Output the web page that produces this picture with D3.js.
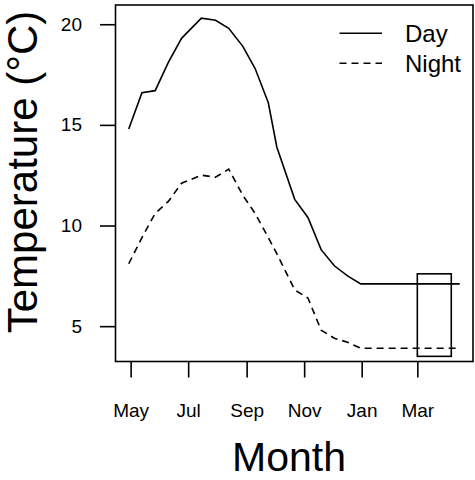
<!DOCTYPE html>
<html>
<head>
<meta charset="utf-8">
<script src="https://cdn.jsdelivr.net/npm/d3@7"></script>
<style>
html,body{margin:0;padding:0;background:#fff;}
svg{display:block;font-family:"Liberation Sans",Arial,Helvetica,sans-serif;}
</style>
</head>
<body>
<svg id="chart" width="475" height="480"></svg>
<script>
// Data (dates of observations, day and night temperatures in °C)
const dates = ["2013-04-29","2013-05-13","2013-05-27","2013-06-10","2013-06-24","2013-07-15","2013-07-30","2013-08-13","2013-08-28","2013-09-10","2013-09-24","2013-10-03","2013-10-22","2013-11-05","2013-11-19","2013-12-03","2013-12-17","2013-12-31","2014-04-15"];
const dayTemp   = [14.8,16.6,16.7,18.1,19.3,20.3,20.2,19.8,18.9,17.8,16.1,13.9,11.3,10.4,8.8,8.0,7.5,7.1,7.1];
const nightTemp = [8.1,9.4,10.6,11.2,12.1,12.5,12.4,12.8,11.5,10.6,9.4,8.6,6.8,6.4,4.8,4.4,4.2,3.9,3.9];
const xTickDates  = ["2013-05-01","2013-07-01","2013-09-01","2013-11-01","2014-01-01","2014-03-01"];
const xTickLabels = ["May","Jul","Sep","Nov","Jan","Mar"];
const yTicks = [5,10,15,20];
const seriesNames = ["Day","Night"];
const boxRange = {x0:"2014-03-01", x1:"2014-04-06", y0:3.5, y1:7.6};

const parse = d3.utcParse("%Y-%m-%d");
const svg = d3.select("#chart");
const L = 115.5, R = 473, T = 5, B = 361.5;

const tExt = d3.extent(dates, d => parse(d).getTime());
const tPad = (tExt[1]-tExt[0])*0.04;
const x = d3.scaleUtc().domain([new Date(tExt[0]-tPad), new Date(tExt[1]+tPad)]).range([L,R]);
const allV = dayTemp.concat(nightTemp);
const vExt = d3.extent(allV);
const vPad = (vExt[1]-vExt[0])*0.04;
const y = d3.scaleLinear().domain([vExt[0]-vPad, vExt[1]+vPad]).range([B,T]);

const dayData = dates.map((d,i)=>({t:parse(d), v:dayTemp[i]}));
const nightData = dates.map((d,i)=>({t:parse(d), v:nightTemp[i]}));
const line = d3.line().x(d=>x(d.t)).y(d=>y(d.v));

const lw = 1.6;
svg.append("path").attr("d", line(dayData)).attr("fill","none").attr("stroke","#000").attr("stroke-width",lw);
svg.append("path").attr("d", line(nightData)).attr("fill","none").attr("stroke","#000").attr("stroke-width",lw).attr("stroke-dasharray","7,5");

// rectangle marker
svg.append("rect")
  .attr("x", x(parse(boxRange.x0))).attr("y", y(boxRange.y1))
  .attr("width", x(parse(boxRange.x1))-x(parse(boxRange.x0)))
  .attr("height", y(boxRange.y0)-y(boxRange.y1))
  .attr("fill","none").attr("stroke","#000").attr("stroke-width",lw);

// plot box
svg.append("rect").attr("x",L).attr("y",T).attr("width",R-L).attr("height",B-T)
  .attr("fill","none").attr("stroke","#000").attr("stroke-width",lw);

// x axis
const xAxis = d3.axisBottom(x)
  .tickValues(xTickDates.map(parse))
  .tickFormat((d,i)=>xTickLabels[i])
  .tickSize(16).tickPadding(26);
const gx = svg.append("g").attr("transform",`translate(0,${B})`).call(xAxis);
gx.select(".domain").remove();
gx.selectAll(".tick line").attr("stroke-width",lw);
gx.selectAll(".tick text").attr("font-size","19px").attr("font-family","Liberation Sans, Arial, sans-serif").attr("fill","#000");

// y axis
const yAxis = d3.axisLeft(y).tickValues(yTicks).tickSize(15.5).tickPadding(18);
const gy = svg.append("g").attr("transform",`translate(${L},0)`).call(yAxis);
gy.select(".domain").remove();
gy.selectAll(".tick line").attr("stroke-width",lw);
gy.selectAll(".tick text").attr("font-size","19px").attr("font-family","Liberation Sans, Arial, sans-serif").attr("fill","#000");

// titles
svg.append("text").attr("x",289).attr("y",471).attr("text-anchor","middle")
  .attr("font-size","41px").text("Month");
svg.append("text").attr("transform","translate(37,172) rotate(-90)").attr("text-anchor","middle")
  .attr("font-size","42px").text("Temperature (°C)");

// legend
const legY = [33.3, 63.3];
const dashes = [null, "7,5"];
seriesNames.forEach((name,i)=>{
  const ln = svg.append("line").attr("x1",339.5).attr("x2",382).attr("y1",legY[i]).attr("y2",legY[i])
    .attr("stroke","#000").attr("stroke-width",lw);
  if (dashes[i]) ln.attr("stroke-dasharray",dashes[i]);
  svg.append("text").attr("x",405).attr("y",legY[i]+8.5).attr("font-size","24px").text(name);
});
</script>
</body>
</html>
